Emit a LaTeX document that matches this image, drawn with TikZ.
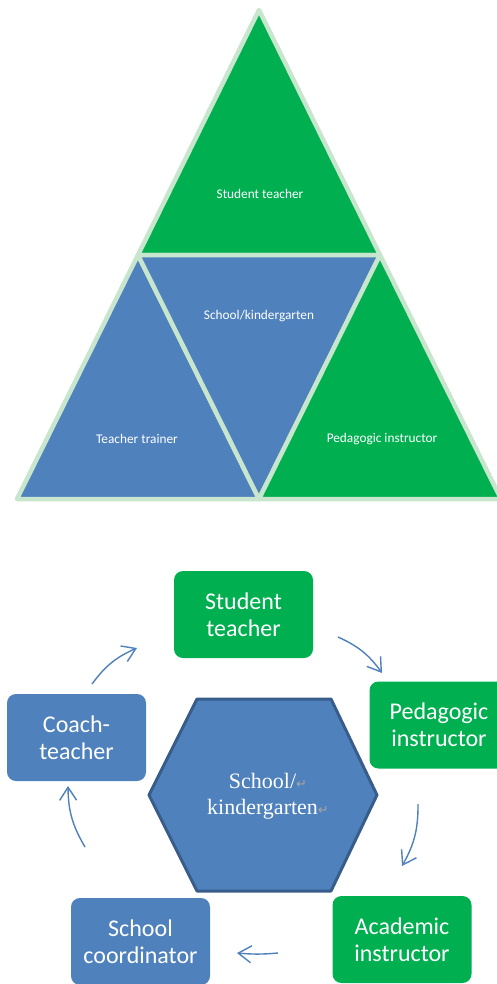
\documentclass[tikz,border=0pt]{standalone}
\usepackage{fontspec}
\setmainfont{Carlito}
\newfontfamily\serifhex{Liberation Serif}
\newfontfamily\symfont{DejaVu Sans}
\usetikzlibrary{arrows.meta}
\definecolor{ogreen}{RGB}{0,176,80}
\definecolor{oblue}{RGB}{79,129,189}
\definecolor{lgreen}{RGB}{200,230,205}
\definecolor{dblue}{RGB}{56,93,138}
\definecolor{retgrey}{RGB}{165,165,165}
\newcommand{\retmark}{{\symfont\color{retgrey}\fontsize{13}{13}\selectfont ↵}}
\begin{document}
\begin{tikzpicture}[x=1pt,y=-1pt,
 tri/.style={draw=lgreen,line width=4.5pt,line join=round},
 trilabel/.style={text=white,font=\fontsize{13.3}{16}\selectfont},
 box/.style={rounded corners=9pt,minimum width=139pt,minimum height=87pt,text=white,align=center,font=\fontsize{24}{27}\selectfont,inner sep=0pt},
 gbox/.style={box,fill=ogreen},
 bbox/.style={box,fill=oblue},
 hex/.style={fill=oblue,draw=dblue,line width=3pt,line join=round},
 hextext/.style={text=white,align=center,font=\serifhex\fontsize{22}{26}\selectfont},
 cyc/.style={draw=oblue,line width=1.4pt,-{Straight Barb[length=13pt,width=17pt]}}
]
\useasboundingbox (0,0) rectangle (497,984);
\fill[white] (0,0) rectangle (497,984);
% triangle
\coordinate (A) at (259,10);
\coordinate (L) at (138,255);
\coordinate (R) at (380,255);
\coordinate (BL) at (17,499);
\coordinate (BC) at (259,499);
\coordinate (BR) at (501,499);
\draw[tri,fill=ogreen] (A) -- (L) -- (R) -- cycle;
\draw[tri,fill=oblue] (L) -- (BL) -- (BC) -- cycle;
\draw[tri,fill=oblue] (L) -- (R) -- (BC) -- cycle;
\draw[tri,fill=ogreen] (R) -- (BC) -- (BR) -- cycle;
\node[trilabel] (t1) at (260,194) {Student teacher};
\node[trilabel] (t2) at (259,316) {School/kindergarten};
\node[trilabel] (t3) at (137,439) {Teacher trainer};
\node[trilabel] (t4) at (382,439) {Pedagogic instructor};
% cycle
\node[gbox] (st) at (243.5,614.5) {Student\\teacher};
\node[gbox] (pi) at (439,725) {Pedagogic\\instructor};
\node[gbox] (ai) at (402,939.5) {Academic\\instructor};
\node[bbox] (sc) at (140.5,941.5) {School\\coordinator};
\node[bbox] (ct) at (76.5,737.5) {Coach-\\teacher};
\coordinate (h1) at (197,699);
\coordinate (h2) at (331,699);
\coordinate (h3) at (377,795);
\coordinate (h4) at (331,891);
\coordinate (h5) at (197,891);
\coordinate (h6) at (149,795);
\draw[hex] (h1) -- (h2) -- (h3) -- (h4) -- (h5) -- (h6) -- cycle;
\node[hextext] (hx) at (268,796) {School/\retmark\\kindergarten\retmark};
% arrows
\coordinate (a1s) at (338,637); \coordinate (a1e) at (382,673);
\coordinate (a2s) at (418,804); \coordinate (a2e) at (402,866);
\coordinate (a3s) at (278,953); \coordinate (a3e) at (237,953);
\coordinate (a4s) at (85,847);  \coordinate (a4e) at (68,786);
\coordinate (a5s) at (92,684);  \coordinate (a5e) at (137,648);
\draw[cyc] (a1s) to[bend left=15] (a1e);
\draw[cyc] (a2s) to[bend left=15] (a2e);
\draw[cyc] (a3s) to[bend left=5] (a3e);
\draw[cyc] (a4s) to[bend left=15] (a4e);
\draw[cyc] (a5s) to[bend left=15] (a5e);
\end{tikzpicture}
\end{document}
